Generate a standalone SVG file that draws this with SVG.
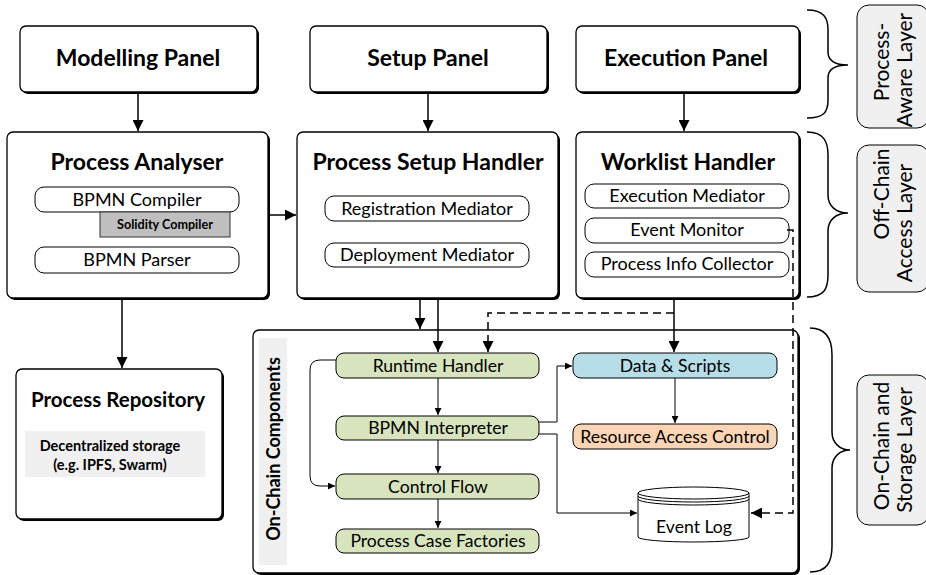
<svg xmlns="http://www.w3.org/2000/svg" width="926" height="575" viewBox="0 0 926 575">
<style>
text{font-family:Lato,"Open Sans","Liberation Sans",sans-serif;fill:#000}
.shadow{fill:#000}
.box{fill:#fff;stroke:#000;stroke-width:1.3}
.pill{fill:#fff;stroke:#000;stroke-width:1}
.green{fill:#d7e4bd;stroke:#000;stroke-width:1}
.blue{fill:#b7dee8;stroke:#000;stroke-width:1}
.peach{fill:#fcd5b5;stroke:#000;stroke-width:1}
.t1{font-size:23px;font-weight:bold;text-anchor:middle}
.t2{font-size:17.6px;text-anchor:middle}
.t3{font-size:18px;text-anchor:middle}
.lay{font-size:21px;text-anchor:middle}
.main{fill:none;stroke:#000;stroke-width:1.5}
.thin{fill:none;stroke:#000;stroke-width:1}
.dash{fill:none;stroke:#000;stroke-width:1.5;stroke-dasharray:8,5}
.brace{fill:none;stroke:#000;stroke-width:1.5}
.lbox{fill:#f0f0f0;stroke:#000;stroke-width:1}
</style>
<defs>
<marker id="a" viewBox="0 0 10 10" refX="10" refY="5" markerWidth="7" markerHeight="7" markerUnits="userSpaceOnUse" orient="auto"><path d="M0,0 L10,5 L0,10 z" fill="#000"/></marker>
<marker id="b" viewBox="0 0 10 10" refX="10" refY="5" markerWidth="11" markerHeight="11" markerUnits="userSpaceOnUse" orient="auto"><path d="M0,0 L10,5 L0,10 z" fill="#000"/></marker>
</defs>

<g id="modelling-panel">
<rect class="shadow" x="22" y="28" width="237" height="66" rx="6"/>
<rect class="box" x="20" y="26" width="237" height="66" rx="6"/>
<text class="t1" x="138" y="66">Modelling Panel</text>
</g>
<g id="setup-panel">
<rect class="shadow" x="312" y="28" width="237" height="66" rx="6"/>
<rect class="box" x="310" y="26" width="237" height="66" rx="6"/>
<text class="t1" x="428" y="66">Setup Panel</text>
</g>
<g id="execution-panel">
<rect class="shadow" x="578" y="28" width="223" height="66" rx="6"/>
<rect class="box" x="576" y="26" width="223" height="66" rx="6"/>
<text class="t1" x="686" y="66">Execution Panel</text>
</g>

<g id="process-analyser">
<rect class="shadow" x="9" y="134" width="261" height="166" rx="6"/>
<rect class="box" x="7" y="132" width="261" height="166" rx="6"/>
<text class="t1" x="137" y="170">Process Analyser</text>
<rect class="pill" x="35" y="187" width="204" height="25" rx="9"/>
<text class="t3" x="137" y="206">BPMN Compiler</text>
<rect x="100" y="212" width="130" height="25" fill="#bfbfbf" stroke="#333" stroke-width="1"/>
<text x="165" y="229" font-size="12.6" font-weight="bold" text-anchor="middle">Solidity Compiler</text>
<rect class="pill" x="35" y="247" width="204" height="26" rx="9"/>
<text class="t3" x="137" y="266">BPMN Parser</text>
</g>

<g id="process-setup-handler">
<rect class="shadow" x="299" y="134" width="261" height="166" rx="6"/>
<rect class="box" x="297" y="132" width="261" height="166" rx="6"/>
<text class="t1" x="428" y="170">Process Setup Handler</text>
<rect class="pill" x="325" y="196" width="204" height="25" rx="9"/>
<text class="t3" x="427" y="215">Registration Mediator</text>
<rect class="pill" x="325" y="243" width="204" height="24" rx="9"/>
<text class="t3" x="427" y="261">Deployment Mediator</text>
</g>

<g id="worklist-handler">
<rect class="shadow" x="578" y="134" width="223" height="166" rx="6"/>
<rect class="box" x="576" y="132" width="223" height="166" rx="6"/>
<text class="t1" x="688" y="170">Worklist Handler</text>
<rect class="pill" x="585" y="184" width="204" height="24" rx="9"/>
<text class="t3" x="687" y="202">Execution Mediator</text>
<rect class="pill" x="585" y="218" width="204" height="25" rx="9"/>
<text class="t3" x="687" y="236">Event Monitor</text>
<rect class="pill" x="585" y="252" width="204" height="25" rx="9"/>
<text class="t3" x="687" y="270">Process Info Collector</text>
</g>

<g id="process-repository">
<rect class="shadow" x="18" y="371" width="206" height="150" rx="6"/>
<rect class="box" x="16" y="369" width="206" height="150" rx="6"/>
<text x="118" y="407" font-size="20.5" font-weight="bold" text-anchor="middle">Process Repository</text>
<rect x="25" y="431" width="180" height="46" fill="#f0f0f0"/>
<text x="110" y="451" font-size="14.5" font-weight="bold" text-anchor="middle">Decentralized storage</text>
<text x="110" y="470" font-size="14.5" font-weight="bold" text-anchor="middle">(e.g. IPFS, Swarm)</text>
</g>

<g id="on-chain-components">
<rect class="shadow" x="255" y="332" width="545" height="243" rx="6"/>
<rect class="box" x="253" y="330" width="545" height="243" rx="6"/>
<rect x="259" y="338" width="28" height="227" fill="#f0f0f0"/>
<text x="0" y="0" font-size="18" font-weight="bold" text-anchor="middle" transform="translate(280,449) rotate(-90)">On-Chain Components</text>
</g>

<g id="runtime-handler">
<rect class="green" x="336" y="353" width="203" height="25" rx="8"/>
<text class="t2" x="438" y="372">Runtime Handler</text>
</g>
<g id="bpmn-interpreter">
<rect class="green" x="336" y="416" width="203" height="24" rx="8"/>
<text class="t2" x="438" y="434">BPMN Interpreter</text>
</g>
<g id="control-flow">
<rect class="green" x="336" y="474" width="203" height="25" rx="8"/>
<text class="t2" x="438" y="493">Control Flow</text>
</g>
<g id="process-case-factories">
<rect class="green" x="336" y="529" width="203" height="24" rx="8"/>
<text class="t2" x="438" y="547">Process Case Factories</text>
</g>
<g id="data-scripts">
<rect class="blue" x="573" y="353" width="204" height="25" rx="8"/>
<text class="t2" x="675" y="372">Data &amp; Scripts</text>
</g>
<g id="resource-access-control">
<rect class="peach" x="573" y="424" width="204" height="25" rx="8"/>
<text class="t2" x="675" y="443">Resource Access Control</text>
</g>
<g id="event-log">
<path d="M638,493 L638,537 A55.5,5 0 0 0 749,537 L749,493" fill="#fff" stroke="#000" stroke-width="1"/>
<ellipse cx="693.5" cy="493" rx="55.5" ry="6" fill="#fff" stroke="#000" stroke-width="1"/>
<path d="M638,496 A55.5,6 0 0 0 749,496" fill="none" stroke="#000" stroke-width="1"/>
<path d="M638,499 A55.5,6 0 0 0 749,499" fill="none" stroke="#000" stroke-width="1"/>
<text class="t2" x="694" y="533">Event Log</text>
</g>

<g id="layers">
<path class="brace" d="M807,10 C824,10 828,18 828,30 L828,52 C828,61 836,65 848,65 C836,65 828,69 828,78 L828,100 C828,112 824,118 807,118"/>
<path class="brace" d="M807,132 C824,132 828,142 828,155 L828,195 C828,206 836,213 848,213 C836,213 828,220 828,231 L828,275 C828,289 824,297 807,297"/>
<path class="brace" d="M810,328 C827,328 832,340 832,355 L832,432 C832,443 840,450 850,450 C840,450 832,457 832,468 L832,546 C832,562 827,572 810,572"/>
<rect class="lbox" x="857" y="5" width="72" height="123" rx="12"/>
<text class="lay" transform="translate(889,62) rotate(-90)">Process-</text>
<text class="lay" transform="translate(912,70) rotate(-90)">Aware Layer</text>
<rect class="lbox" x="857" y="145" width="72" height="147" rx="12"/>
<text class="lay" transform="translate(889,194) rotate(-90)">Off-Chain</text>
<text class="lay" transform="translate(912,223) rotate(-90)">Access Layer</text>
<rect class="lbox" x="857" y="375" width="72" height="150" rx="12"/>
<text class="lay" transform="translate(889,446) rotate(-90)">On-Chain and</text>
<text class="lay" transform="translate(912,450) rotate(-90)">Storage Layer</text>
</g>

<g id="connectors">
<path class="main" d="M138,92 L138,131" marker-end="url(#b)"/>
<path class="main" d="M428,92 L428,131" marker-end="url(#b)"/>
<path class="main" d="M684,92 L684,131" marker-end="url(#b)"/>
<path class="main" d="M268,215 L296,215" marker-end="url(#b)"/>
<path class="main" d="M122,298 L122,368" marker-end="url(#b)"/>
<path class="main" d="M420,298 L420,329" marker-end="url(#b)"/>
<path class="main" d="M438,298 L438,352" marker-end="url(#b)"/>
<path class="main" d="M674,298 L674,352" marker-end="url(#b)"/>
<path class="dash" d="M674,313 L488,313 L488,352" marker-end="url(#b)"/>
<path class="dash" d="M787,230 L793,230 L793,513 L751,513" marker-end="url(#b)"/>
<path class="thin" d="M438,378 L438,415" marker-end="url(#a)"/>
<path class="thin" d="M438,440 L438,473" marker-end="url(#a)"/>
<path class="thin" d="M438,499 L438,528" marker-end="url(#a)"/>
<path class="thin" d="M675,378 L675,423" marker-end="url(#a)"/>
<path class="thin" d="M336,360 L320,360 Q310,360 310,370 L310,476 Q310,486 320,486 L335,486" marker-end="url(#a)"/>
<path class="thin" d="M539,422 L557,422 L557,366 L572,366" marker-end="url(#a)"/>
<path class="thin" d="M539,434 L557,434 L557,513 L637,513" marker-end="url(#a)"/>
</g>
</svg>
